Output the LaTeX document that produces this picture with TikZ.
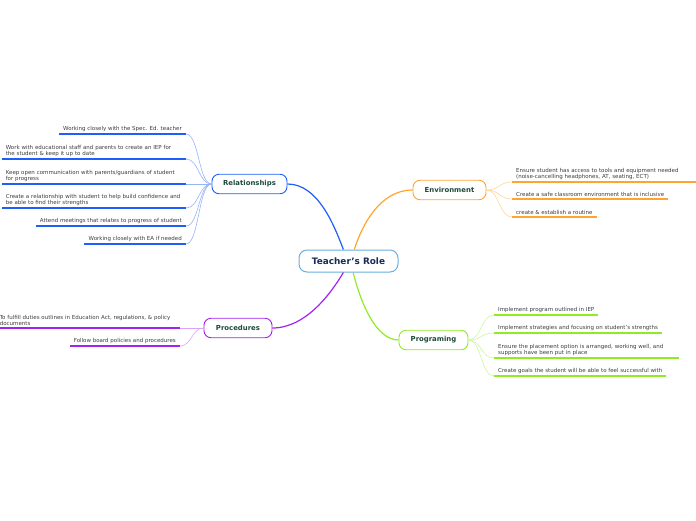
\documentclass[tikz,border=0pt]{standalone}
\usepackage{fontspec}
\setmainfont{DejaVu Sans}

\definecolor{relblue}{HTML}{1F5EFA}
\definecolor{relsoft}{HTML}{95B4F5}
\definecolor{envorange}{HTML}{FFA52E}
\definecolor{envsoft}{HTML}{FFD49A}
\definecolor{procpurple}{HTML}{A421EE}
\definecolor{procsoft}{HTML}{D8A6F4}
\definecolor{proggreen}{HTML}{8FEB22}
\definecolor{progsoft}{HTML}{CBF5A0}
\definecolor{roleblue}{HTML}{6AAEDF}
\definecolor{rolenavy}{HTML}{1B2B57}
\definecolor{titlegreen}{HTML}{1D4A3A}
\definecolor{leafgray}{HTML}{3C3C3C}

\tikzset{
    role/.style={draw=roleblue, line width=1pt, rounded corners=8pt, fill=white,
        minimum width=99pt, minimum height=22pt, text=rolenavy,
        font=\fontsize{8.9}{10}\selectfont\bfseries},
    topic/.style={draw=#1, line width=0.9pt, rounded corners=7pt, fill=white,
        minimum height=19.5pt, text=titlegreen,
        font=\fontsize{6.9}{8}\selectfont\bfseries},
    leaf/.style={inner xsep=4pt, inner ysep=2pt, text=leafgray, align=left,
        font=\fontsize{5.5}{6.3}\selectfont},
    branch/.style={draw=#1, line width=1.2pt},
    underline/.style={draw=#1, line width=1.5pt},
    twig/.style={draw=#1, line width=0.6pt}
}

\begin{document}
\begin{tikzpicture}[x=1pt, y=-1pt]
    \useasboundingbox (0,0) rectangle (696,520);

    % Central topic
    \node[role] (role) at (348.5,261) {Teacher's Role};

    % Main topics
    \node[topic=relblue,    minimum width=75pt] (rel)  at (249.5,184) {Relationships};
    \node[topic=envorange,  minimum width=73pt] (env)  at (449.5,190) {Environment};
    \node[topic=procpurple, minimum width=68pt] (proc) at (238,328)   {Procedures};
    \node[topic=proggreen,  minimum width=69pt] (prog) at (433.5,340) {Programing};

    % Main branches
    \draw[branch=relblue]    (rel.east)  .. controls (318,184) and (334,225) .. (role.114);
    \draw[branch=envorange]  (env.west)  .. controls (380,190) and (362,225) .. (role.63);
    \draw[branch=procpurple] (proc.east) .. controls (305,328) and (330,295) .. (role.246);
    \draw[branch=proggreen]  (prog.west) .. controls (375,340) and (360,300) .. (role.292);

    % Relationships leaves
    \node[leaf, anchor=south east] (r1) at (186,134) {Working closely with the Spec. Ed. teacher};
    \node[leaf, anchor=south east, text width=176pt] (r2) at (186,159)
        {Work with educational staff and parents to create an IEP for\\the student \& keep it up to date};
    \node[leaf, anchor=south east, text width=176pt] (r3) at (186,184)
        {Keep open communication with parents/guardians of student\\for progress};
    \node[leaf, anchor=south east, text width=176pt] (r4) at (186,208)
        {Create a relationship with student to help build confidence and\\be able to find their strengths};
    \node[leaf, anchor=south east] (r5) at (186,226) {Attend meetings that relates to progress of student};
    \node[leaf, anchor=south east] (r6) at (186,244) {Working closely with EA if needed};
    \foreach \i in {1,...,6} {
        \draw[underline=relblue] (r\i.south west) -- (r\i.south east);
        \draw[twig=relsoft] (r\i.south east) .. controls +(13,0) and +(-13,0) .. (rel.west);
    }

    % Environment leaves
    \node[leaf, anchor=south west, text width=176pt] (e1) at (512,182)
        {Ensure student has access to tools and equipment needed\\(noise-cancelling headphones, AT, seating, ECT)};
    \node[leaf, anchor=south west] (e2) at (512,199) {Create a safe classroom environment that is inclusive};
    \node[leaf, anchor=south west] (e3) at (512,217) {create \& establish a routine};
    \foreach \i in {1,...,3} {
        \draw[underline=envorange] (e\i.south west) -- (e\i.south east);
        \draw[twig=envsoft] (env.east) .. controls +(13,0) and +(-13,0) .. (e\i.south west);
    }

    % Procedures leaves
    \node[leaf, anchor=south east, text width=176pt] (p1) at (180,328)
        {To fulfill duties outlines in Education Act, regulations, \& policy\\documents};
    \node[leaf, anchor=south east] (p2) at (180,346) {Follow board policies and procedures};
    \foreach \i in {1,2} {
        \draw[underline=procpurple] (p\i.south west) -- (p\i.south east);
        \draw[twig=procsoft] (p\i.south east) .. controls +(12,0) and +(-12,0) .. (proc.west);
    }

    % Programing leaves
    \node[leaf, anchor=south west] (g1) at (494,315) {Implement program outlined in IEP};
    \node[leaf, anchor=south west] (g2) at (494,333) {Implement strategies and focusing on student's strengths};
    \node[leaf, anchor=south west, text width=177pt] (g3) at (494,358)
        {Ensure the placement option is arranged, working well, and\\supports have been put in place};
    \node[leaf, anchor=south west] (g4) at (494,376) {Create goals the student will be able to feel successful with};
    \foreach \i in {1,...,4} {
        \draw[underline=proggreen] (g\i.south west) -- (g\i.south east);
        \draw[twig=progsoft] (prog.east) .. controls +(13,0) and +(-13,0) .. (g\i.south west);
    }
\end{tikzpicture}
\end{document}
